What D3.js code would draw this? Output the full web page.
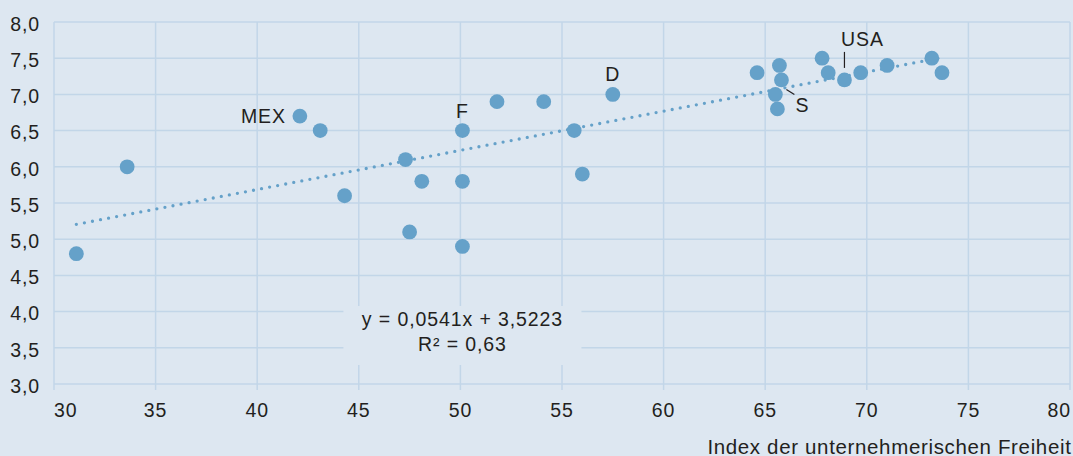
<!DOCTYPE html>
<html>
<head>
<meta charset="utf-8">
<script src="https://d3js.org/d3.v7.min.js"></script>
<style>
  body { margin: 0; background: #dde7f1; }
  text { font-family: "Liberation Sans", Arial, sans-serif; fill: #231f20; letter-spacing: 0.9px; }
</style>
</head>
<body>
<svg id="svg" width="1073" height="456"></svg>
<script>
// data
var freedom = [31.1, 33.6, 42.1, 43.1, 44.3, 47.3, 48.1, 47.5, 50.1, 50.1, 50.1, 51.8, 54.1, 55.6, 56.0, 57.5,
               64.6, 65.7, 65.8, 65.5, 65.6, 67.8, 68.1, 68.9, 69.7, 71.0, 73.2, 73.7];
var score   = [4.8, 6.0, 6.7, 6.5, 5.6, 6.1, 5.8, 5.1, 6.5, 5.8, 4.9, 6.9, 6.9, 6.5, 5.9, 7.0,
               7.3, 7.4, 7.2, 7.0, 6.8, 7.5, 7.3, 7.2, 7.3, 7.4, 7.5, 7.3];
var xTicks = [30, 35, 40, 45, 50, 55, 60, 65, 70, 75, 80];
var yTicks = [3.0, 3.5, 4.0, 4.5, 5.0, 5.5, 6.0, 6.5, 7.0, 7.5, 8.0];
var slope = 0.0541, intercept = 3.5223, r2 = "0,63";
var labels = [
    {i: 2, text: "MEX"},
    {i: 8, text: "F"},
    {i: 15, text: "D"},
    {i: 23, text: "USA"},
    {i: 19, text: "S"}
];
var xTitle = "Index der unternehmerischen Freiheit";

var svg = d3.select("#svg"),
    bg = "#dde7f1",
    grid = "#c2d6e8",
    dot = "#65a1c9",
    fs = 19.5;
svg.append("rect").attr("width", 1073).attr("height", 456).attr("fill", bg);

var x = d3.scaleLinear().domain([30, 80]).range([54, 1070]),
    y = d3.scaleLinear().domain([3, 8]).range([384, 22]);
var fmt = function(v) { return d3.format(".1f")(v).replace(".", ","); };

var g = svg.append("g");
// grid
g.selectAll(".hg").data(yTicks).enter().append("line")
    .attr("x1", x(30)).attr("x2", x(80))
    .attr("y1", d => y(d)).attr("y2", d => y(d))
    .attr("stroke", grid).attr("stroke-width", 1.5);
g.selectAll(".vg").data(xTicks).enter().append("line")
    .attr("x1", d => x(d)).attr("x2", d => x(d))
    .attr("y1", y(8)).attr("y2", y(3) + 6)
    .attr("stroke", grid).attr("stroke-width", 1.5);

// tick labels
g.selectAll(".yl").data(yTicks).enter().append("text")
    .attr("x", 40).attr("y", d => y(d) + 8.7)
    .attr("text-anchor", "end").attr("font-size", fs)
    .text(fmt);
g.selectAll(".xl").data(xTicks).enter().append("text")
    .attr("x", (d, i) => x(d) + (i == xTicks.length - 1 ? 1 : 0)).attr("y", 416.5)
    .attr("text-anchor", (d, i) => i == 0 ? "start" : (i == xTicks.length - 1 ? "end" : "middle"))
    .attr("font-size", fs)
    .text(d => d);
g.append("text").attr("x", 1071.5).attr("y", 453.5).attr("text-anchor", "end").attr("font-size", 20.5)
    .style("letter-spacing", "0.65px").text(xTitle);

// equation box
var ex = x(50.1), ey = 326;
g.append("rect").attr("x", ex - 119).attr("y", ey - 20).attr("width", 238).attr("height", 59).attr("fill", bg);
g.append("text").attr("x", ex).attr("y", ey).attr("text-anchor", "middle").attr("font-size", fs)
    .text("y = " + String(slope).replace(".", ",") + "x + " + String(intercept).replace(".", ","));
g.append("text").attr("x", ex).attr("y", ey + 25).attr("text-anchor", "middle").attr("font-size", fs)
    .text("R² = " + r2);

// trend line
var x0 = d3.min(freedom), x1 = d3.max(freedom);
g.append("line")
    .attr("x1", x(x0)).attr("y1", y(slope * x0 + intercept))
    .attr("x2", x(x1)).attr("y2", y(slope * x1 + intercept))
    .attr("stroke", dot).attr("stroke-width", 3.3)
    .attr("stroke-linecap", "round").attr("stroke-dasharray", "0 8.2");

// points
g.selectAll(".pt").data(freedom).enter().append("circle")
    .attr("cx", d => x(d)).attr("cy", (d, i) => y(score[i]))
    .attr("r", 7.4).attr("fill", dot);

// labels
labels.forEach(function(l) {
    var px = x(freedom[l.i]), py = y(score[l.i]);
    if (l.text == "MEX") {
        g.append("text").attr("x", px - 14).attr("y", py + 7).attr("text-anchor", "end").attr("font-size", fs).text(l.text);
    } else if (l.text == "USA") {
        g.append("text").attr("x", px + 18).attr("y", py - 34).attr("text-anchor", "middle").attr("font-size", fs).text(l.text);
        g.append("line").attr("x1", px).attr("x2", px).attr("y1", py - 28).attr("y2", py - 12).attr("stroke", "#231f20").attr("stroke-width", 1.2);
    } else if (l.text == "S") {
        g.append("text").attr("x", px + 27).attr("y", py + 18).attr("text-anchor", "middle").attr("font-size", fs).text(l.text);
        g.append("line").attr("x1", px + 11).attr("x2", px + 19).attr("y1", py - 5).attr("y2", py).attr("stroke", "#231f20").attr("stroke-width", 1.2);
    } else {
        g.append("text").attr("x", px).attr("y", py - 13).attr("text-anchor", "middle").attr("font-size", fs).text(l.text);
    }
});
</script>
</body>
</html>
